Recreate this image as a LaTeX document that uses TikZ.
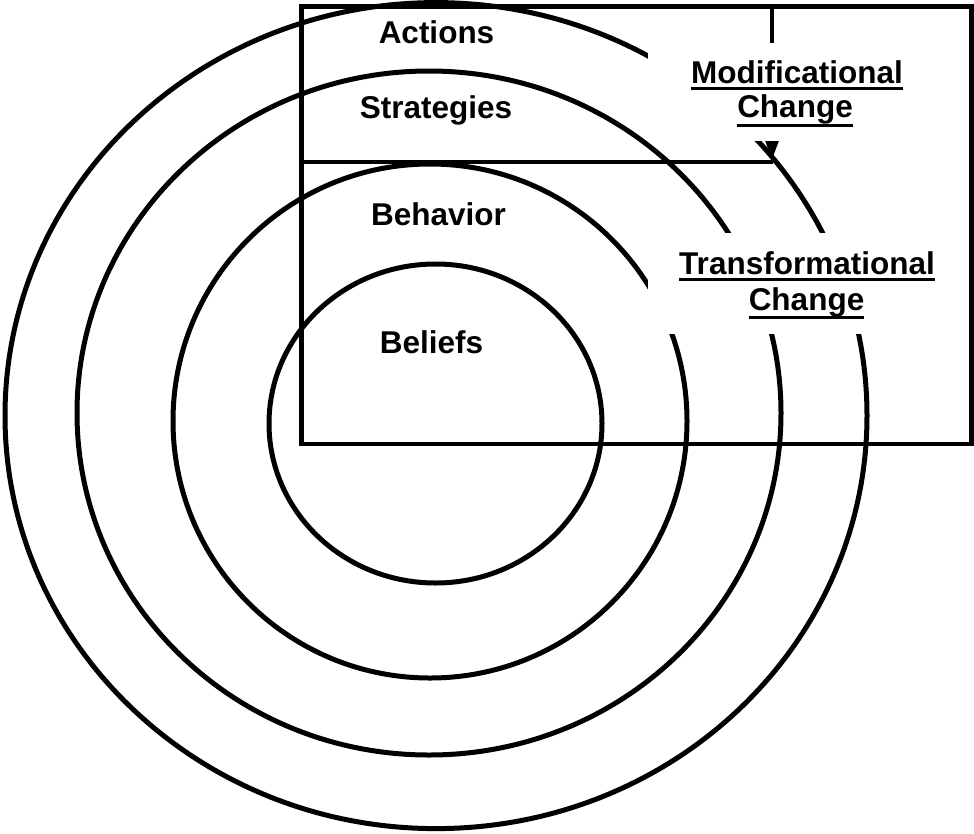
\documentclass[tikz,border=0pt]{standalone}
\usepackage{fontspec}
\setmainfont{Liberation Sans}
\usetikzlibrary{arrows.meta}

\begin{document}
\begin{tikzpicture}[x=1pt,y=1pt,
  ring/.style={line width=5pt},
  frameline/.style={line width=4.8pt},
  lbl/.style={inner sep=0pt, font=\fontsize{31.5}{37}\selectfont\bfseries},
  cover/.style={fill=white, draw=none, inner sep=0pt},
  ul/.style={line width=3pt},
  tip/.style={-{Triangle[length=24pt,width=16pt]}}]

\useasboundingbox (0,0) rectangle (974,-833);

% concentric rings: beliefs, behavior, strategies, actions
\draw[ring] (435.5,-423.5) ellipse [x radius=166.5, y radius=159.5];
\draw[ring] (430,-421)     ellipse [x radius=257,   y radius=257];
\draw[ring] (429,-413)     ellipse [x radius=352,   y radius=342];
\draw[ring] (436,-415.6)   ellipse [x radius=431,   y radius=413];

% frame around the upper right quarter
\draw[frameline] (301.7,-6.7) rectangle (971.5,-444);

% divider between strategies and behavior
\coordinate (divL) at (301.7,-162);
\coordinate (divR) at (773,-162);
\draw[frameline] (divL) -- (divR);

% arrow from the frame top down to the divider
\coordinate (modTop) at (772,-6.7);
\coordinate (modTip) at (772,-160);
\draw[frameline, tip] (modTop) -- (modTip);

% white backgrounds of the two change labels
\node[cover, minimum width=298pt, minimum height=98pt] (modbg) at (797,-92) {};
\node[cover, minimum width=318pt, minimum height=101pt] (transbg) at (807,-283.5) {};

% ring labels
\node[lbl, anchor=base] (actions)    at (436.5,-43)  {Actions};
\node[lbl, anchor=base] (strategies) at (436,-118)   {Strategies};
\node[lbl, anchor=base] (behavior)   at (438.5,-225) {Behavior};
\node[lbl, anchor=base] (beliefs)    at (431.5,-353) {Beliefs};

% change labels
\node[lbl, anchor=base] (mod1)   at (797,-83.5) {Modificational};
\node[lbl, anchor=base] (mod2)   at (795,-117.5) {Change};
\node[lbl, anchor=base] (trans1) at (807,-274)  {Transformational};
\node[lbl, anchor=base] (trans2) at (806.5,-310) {Change};

% underlines
\draw[ul] ([yshift=-5pt]mod1.base west)   -- ([yshift=-5pt]mod1.base east);
\draw[ul] ([yshift=-8pt]mod2.base west)   -- ([yshift=-8pt]mod2.base east);
\draw[ul] ([yshift=-5.5pt]trans1.base west) -- ([yshift=-5.5pt]trans1.base east);
\draw[ul] ([yshift=-7pt]trans2.base west) -- ([yshift=-7pt]trans2.base east);
\end{tikzpicture}
\end{document}
